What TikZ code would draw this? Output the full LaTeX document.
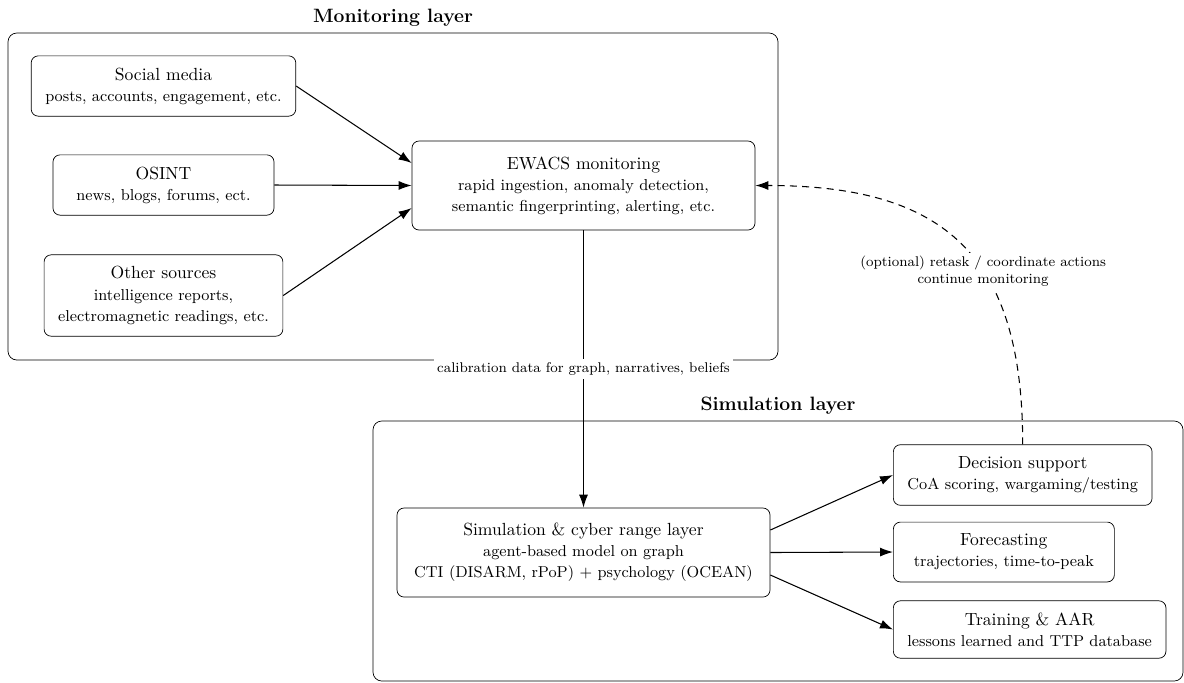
\documentclass[tikz,border=0pt]{standalone}
\usepackage{tikz}
\usetikzlibrary{
    positioning,
    arrows.meta,
}

\begin{document}
\begin{tikzpicture}[
        layerbox/.style={draw, rounded corners=5pt, inner sep=0pt},
        layertitle/.style={font=\fontsize{11}{13}\selectfont\bfseries, label distance=0pt},
        block/.style={draw, fill=white, rounded corners=4pt, align=center,
                      inner xsep=8pt, inner ysep=6.7pt, minimum width=4.42cm},
        core/.style={block, minimum height=1.78cm},
        flow/.style={-{Latex[length=2.6mm,width=1.8mm]}, semithick},
        edgelabel/.style={fill=white, font=\footnotesize, align=center, inner sep=2pt},
    ]
    \pgfmathsetmacro\SrcX{3.27}
    \pgfmathsetmacro\MidX{11.67}
    \pgfmathsetmacro\OutX{17.86}
    \pgfmathsetmacro\Shift{0.45}
    %
    \useasboundingbox (0,0) rectangle (23.68,-13.64);
    %
        % Livelli
    \node[layerbox, minimum width=15.4cm, minimum height=6.54cm,
          label={[layertitle]above:Monitoring layer}] (monitor) at (7.86,-3.93) {};
    \node[layerbox, minimum width=16.2cm, minimum height=5.2cm,
          label={[layertitle]above:Simulation layer}] (simlayer) at (15.56,-11.02) {};
    %
        % Sorgenti
    \node[block] (social) at (\SrcX,-1.72)
        {Social media\\\small posts, accounts, engagement, etc.};
    \node[block] (osint) at (\SrcX,-3.7)
        {OSINT\\\small news, blogs, forums, ect.};
    \node[block] (other) at (\SrcX,-5.91)
        {Other sources\\\small intelligence reports,\\\small electromagnetic readings, etc.};
    %
        % Monitoraggio
    \node[core, minimum width=6.86cm] (ewacs) at (\MidX,-3.71)
        {EWACS monitoring\\\small rapid ingestion, anomaly detection,\\\small semantic fingerprinting, alerting, etc.};
    %
        % Simulazione
    \node[core, minimum width=7.46cm] (sim) at (\MidX,-11.05)
        {Simulation \& cyber range layer\\\small agent-based model on graph\\\small CTI (DISARM, rPoP) + psychology (OCEAN)};
    %
        % Uscite
    \node[block, anchor=west] (decision) at (\OutX,-9.5)
        {Decision support\\\small CoA scoring, wargaming/testing};
    \node[block, anchor=west] (forecast) at (\OutX,-11.04)
        {Forecasting\\\small trajectories, time-to-peak};
    \node[block, anchor=west] (training) at (\OutX,-12.59)
        {Training \& AAR\\\small lessons learned and TTP database};
    %
        % Frecce
    \draw[flow] (social.east) -- ([yshift=\Shift cm]ewacs.west);
    \draw[flow] (osint.east) -- (ewacs.west);
    \draw[flow] (other.east) -- ([yshift=-\Shift cm]ewacs.west);
    %
    \draw[flow] (ewacs.south) --
        node[edgelabel] {calibration data for graph, narratives, beliefs} (sim.north);
    %
    \draw[flow] ([yshift=\Shift cm]sim.east) -- (decision.west);
    \draw[flow] (sim.east) -- (forecast.west);
    \draw[flow] ([yshift=-\Shift cm]sim.east) -- (training.west);
    %
    \draw[flow, dash pattern=on 4pt off 3pt] (decision.north) to[out=90, in=0, looseness=1.3]
        node[edgelabel, pos=0.4] {(optional) retask / coordinate actions\\continue monitoring}
        (ewacs.east);
\end{tikzpicture}
\end{document}
